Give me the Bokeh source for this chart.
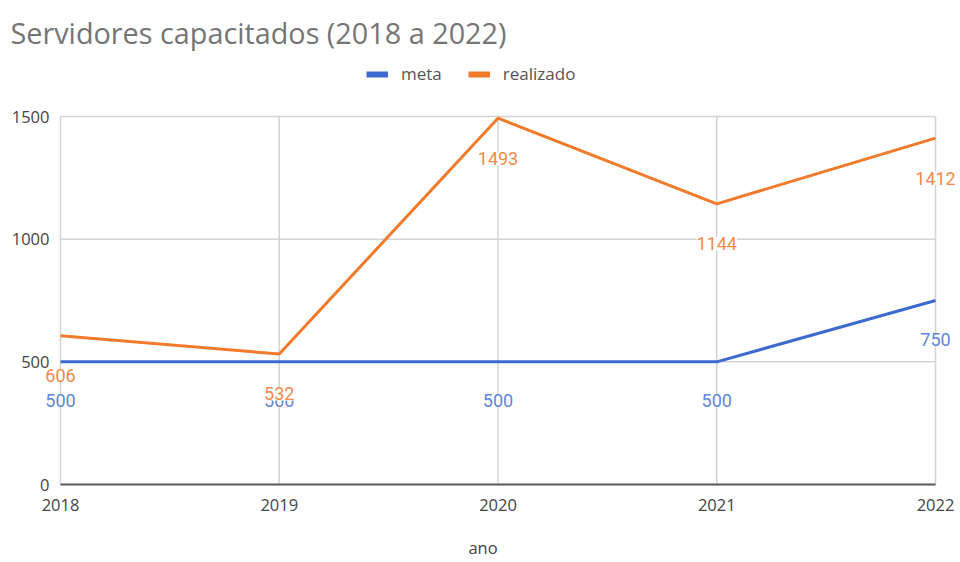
from bokeh.plotting import figure
from bokeh.models import (Legend, LegendItem, ColumnDataSource, Range1d, FixedTicker,
                          LabelSet, Title)
from bokeh.core.properties import value
from bokeh.embed import file_html
from bokeh.resources import INLINE

anos = [2018, 2019, 2020, 2021, 2022]
meta = [500, 500, 500, 500, 750]
realizado = [606, 532, 1493, 1144, 1412]
y_ticks = [0, 500, 1000, 1500]

BLUE = "#3d6ad0"
ORANGE = "#f17a2b"
BLUE_LBL = "#5f86d8"
ORANGE_LBL = "#f28a4c"
GRID = "#d3d3d3"

# visible plot box: 2018..2022 x 0..1500; the view has some room around it
# so that tick labels, data labels and the legend are not cut off
px_per_year = 875 / 4
px_per_unit = 368 / 1500
x_view = Range1d(anos[0] - 55 / px_per_year, anos[-1] + 25 / px_per_year)
y_view = Range1d(y_ticks[0] - 8 / px_per_unit, y_ticks[-1] + 58 / px_per_unit)

p = figure(width=960, height=562, output_backend="svg", toolbar_location=None,
           x_range=x_view, y_range=y_view,
           min_border_left=5, min_border_right=0, min_border_top=58, min_border_bottom=70,
           title=None)
p.outline_line_color = None
p.xgrid.visible = False
p.ygrid.visible = False
p.yaxis.visible = False

n_x = len(anos)
n_y = len(y_ticks)
# grid lines (limited to the data box)
p.segment(x0=[anos[0]] * n_y, x1=[anos[-1]] * n_y, y0=y_ticks, y1=y_ticks,
          line_color=GRID, line_width=1.5)
p.segment(x0=anos, x1=anos, y0=[y_ticks[0]] * n_x, y1=[y_ticks[-1]] * n_x,
          line_color=GRID, line_width=1.5)
# x axis baseline
p.segment(x0=[anos[0]], x1=[anos[-1]], y0=[y_ticks[0]], y1=[y_ticks[0]],
          line_color="#5a5a5a", line_width=2)

src_m = ColumnDataSource(dict(x=anos, y=meta, t=[str(v) for v in meta]))
src_r = ColumnDataSource(dict(x=anos, y=realizado, t=[str(v) for v in realizado]))

p.line("x", "y", source=src_m, line_color=BLUE, line_width=3)
p.line("x", "y", source=src_r, line_color=ORANGE, line_width=3)

lbl_m = LabelSet(x="x", y="y", text="t", source=src_m, y_offset=-39, text_align="center",
                 text_baseline="middle", text_font=value("Roboto"), text_font_size="18px",
                 text_color=BLUE_LBL, background_fill_color="white")
lbl_r = LabelSet(x="x", y="y", text="t", source=src_r, y_offset=-40, text_align="center",
                 text_baseline="middle", text_font=value("Roboto"), text_font_size="18px",
                 text_color=ORANGE_LBL, background_fill_color="white")
p.add_layout(lbl_m)
p.add_layout(lbl_r)

# y tick labels
src_yt = ColumnDataSource(dict(x=[anos[0]] * n_y, y=y_ticks, t=[str(v) for v in y_ticks]))
p.add_layout(LabelSet(x="x", y="y", text="t", source=src_yt, x_offset=-11,
                      text_align="right", text_baseline="middle",
                      text_font=value("Open Sans"), text_font_size="16.5px",
                      text_color="#444444"))

# legend: thick swatches from hidden copies of the two series
lm = p.line("x", "y", source=src_m, line_color=BLUE, line_width=6, visible=False)
lr = p.line("x", "y", source=src_r, line_color=ORANGE, line_width=6, visible=False)
legend = Legend(items=[LegendItem(label="meta", renderers=[lm]),
                       LegendItem(label="realizado", renderers=[lr])],
                orientation="horizontal", location=(361, 407),
                label_text_font="Open Sans", label_text_font_size="17px",
                label_text_color="#555555", glyph_width=22, glyph_height=20,
                label_height=20, label_standoff=13, spacing=26, padding=0, margin=0,
                border_line_color=None, background_fill_alpha=0,
                inactive_fill_alpha=0)
p.add_layout(legend, "center")

title = Title(text="Servidores capacitados (2018 a 2022)", text_font="Open Sans",
              text_font_size="28.8px", text_font_style="normal", text_color="#757575",
              align="left", offset=5, standoff=13)
p.add_layout(title, "above")

# x axis (tick labels + title)
p.xaxis.ticker = FixedTicker(ticks=anos)
p.xaxis.axis_line_color = None
p.xaxis.major_tick_line_color = None
p.xaxis.minor_tick_line_color = None
p.xaxis.major_label_text_font = "Open Sans"
p.xaxis.major_label_text_font_size = "16.5px"
p.xaxis.major_label_text_color = "#444444"
p.xaxis.major_label_standoff = 0
p.xaxis.axis_label = "ano"
p.xaxis.axis_label_text_font = "Open Sans"
p.xaxis.axis_label_text_font_size = "16.5px"
p.xaxis.axis_label_text_font_style = "normal"
p.xaxis.axis_label_text_color = "#444444"
p.xaxis.axis_label_standoff = 22

open("out.html", "w").write(file_html(p, INLINE))
